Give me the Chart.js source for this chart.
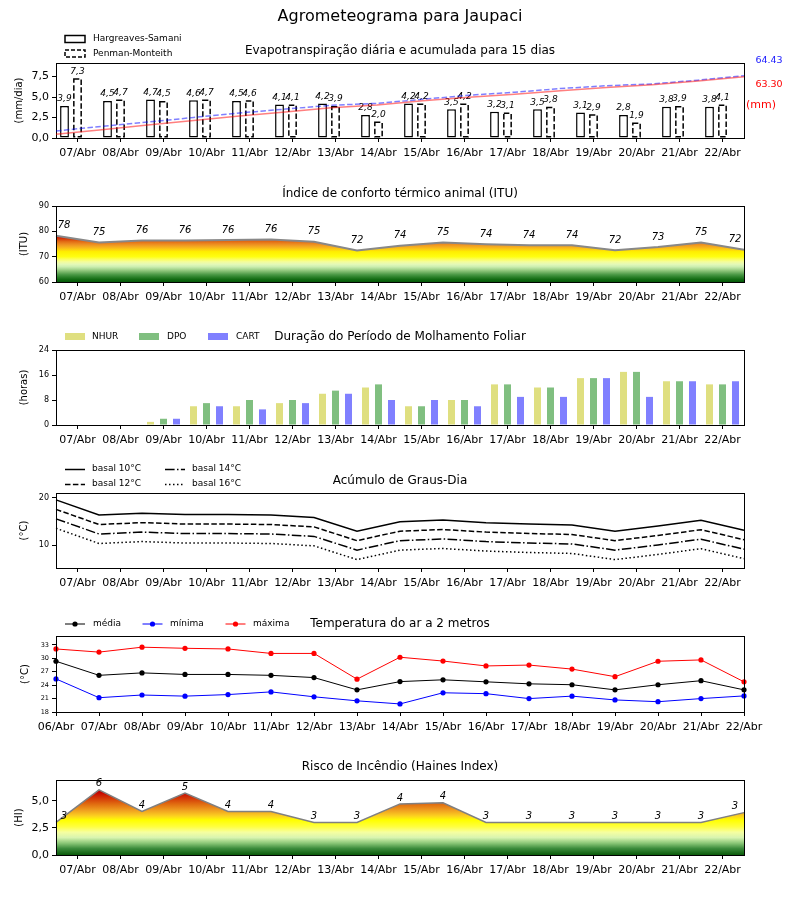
<!DOCTYPE html>
<html lang="pt-BR">
<head>
<meta charset="utf-8">
<title>Agrometeograma para Jaupaci</title>
<script src="https://cdn.jsdelivr.net/npm/chart.js@4.4.1/dist/chart.umd.min.js"></script>
<style>
  body { margin: 0; background: #fff; }
  #wrap { position: relative; width: 800px; height: 900px; }
  canvas { position: absolute; left: 0; }
</style>
</head>
<body>
<div id="wrap">
  <canvas id="et" width="800" height="170" style="top:0"></canvas>
  <canvas id="etAcum" width="800" height="170" style="top:0"></canvas>
  <canvas id="itu" width="800" height="140" style="top:170px"></canvas>
  <canvas id="molh" width="800" height="145" style="top:310px"></canvas>
  <canvas id="graus" width="800" height="145" style="top:455px"></canvas>
  <canvas id="temp" width="800" height="145" style="top:600px"></canvas>
  <canvas id="haines" width="800" height="155" style="top:745px"></canvas>
</div>
<script>
Chart.defaults.font.family = '"DejaVu Sans", sans-serif';
Chart.defaults.color = '#000';
Chart.defaults.animation = false;

// dias (rótulos do eixo) e bordas dos dias (pontos das curvas)
const dias = ['07/Abr', '08/Abr', '09/Abr', '10/Abr', '11/Abr', '12/Abr', '13/Abr', '14/Abr',
  '15/Abr', '16/Abr', '17/Abr', '18/Abr', '19/Abr', '20/Abr', '21/Abr', '22/Abr'];
const diasBordas = ['06/Abr', '07/Abr', '08/Abr', '09/Abr', '10/Abr', '11/Abr', '12/Abr', '13/Abr', '14/Abr',
  '15/Abr', '16/Abr', '17/Abr', '18/Abr', '19/Abr', '20/Abr', '21/Abr', '22/Abr'];

// evapotranspiração (mm/dia) e acumulada (mm)
const etHargreaves = [3.9, 4.5, 4.7, 4.6, 4.5, 4.1, 4.2, 2.8, 4.2, 3.5, 3.2, 3.5, 3.1, 2.8, 3.8, 3.8];
const etPenman = [7.3, 4.7, 4.5, 4.7, 4.6, 4.1, 3.9, 2.0, 4.2, 4.2, 3.1, 3.8, 2.9, 1.9, 3.9, 4.1];
const acumHargreaves = [4.0, 8.6, 13.4, 18.1, 22.7, 26.9, 31.2, 34.1, 38.4, 42.0, 45.3, 48.9, 52.1, 55.0, 58.9, 63.30];
const acumPenman = [7.3, 12.0, 16.5, 21.2, 25.8, 29.9, 33.8, 35.8, 40.0, 44.2, 47.3, 51.1, 54.0, 55.9, 59.8, 64.43];

// ITU
const itu = [78.3, 75.6, 76.4, 76.4, 76.6, 76.8, 75.9, 72.4, 74.3, 75.6, 74.9, 74.5, 74.5, 72.5, 73.8, 75.6, 72.7];

// molhamento foliar (horas)
const nhur = [0, 0, 1, 6, 6, 7, 10, 12, 6, 8, 13, 12, 15, 17, 14, 13];
const dpo = [0, 0, 2, 7, 8, 8, 11, 13, 6, 8, 13, 12, 15, 17, 14, 13];
const cart = [0, 0, 2, 6, 5, 7, 10, 8, 8, 6, 9, 9, 15, 9, 14, 14];

// graus-dia (°C)
const basal10 = [19.6, 16.4, 16.8, 16.5, 16.5, 16.4, 15.9, 13.0, 15.0, 15.35, 14.8, 14.5, 14.3, 13.0, 14.1, 15.3, 13.2];
const basal12 = [17.6, 14.4, 14.8, 14.5, 14.5, 14.4, 13.9, 11.0, 13.0, 13.35, 12.8, 12.5, 12.3, 11.0, 12.1, 13.3, 11.2];
const basal14 = [15.6, 12.4, 12.8, 12.5, 12.5, 12.4, 11.9, 9.0, 11.0, 11.35, 10.8, 10.5, 10.3, 9.0, 10.1, 11.3, 9.2];
const basal16 = [13.6, 10.4, 10.8, 10.5, 10.5, 10.4, 9.9, 7.0, 9.0, 9.35, 8.8, 8.5, 8.3, 7.0, 8.1, 9.3, 7.2];

// temperatura do ar (°C)
const tMedia = [29.35, 26.2, 26.75, 26.4, 26.4, 26.2, 25.7, 22.95, 24.8, 25.2, 24.75, 24.3, 24.1, 22.95, 24.1, 25.0, 22.95];
const tMinima = [25.4, 21.2, 21.8, 21.55, 21.9, 22.5, 21.4, 20.5, 19.8, 22.3, 22.1, 21.0, 21.55, 20.7, 20.3, 21.0, 21.6];
const tMaxima = [32.1, 31.4, 32.5, 32.25, 32.1, 31.1, 31.1, 25.35, 30.25, 29.4, 28.3, 28.5, 27.6, 25.9, 29.35, 29.65, 24.75];

// Haines
const haines = [3, 6, 4, 5.7, 4, 4, 3, 3, 4.7, 4.8, 3, 3, 3, 3, 3, 3, 3.9];

// ticks
const ticksEt = [0, 2.5, 5, 7.5];
const ticksItu = [60, 70, 80, 90];
const ticksMolh = [0, 8, 16, 24];
const ticksGraus = [10, 20];
const ticksTemp = [18, 21, 24, 27, 30, 33];
const ticksHaines = [0, 2.5, 5];

// cores das faixas
const coresItu = [[60, '#05580a'], [61, '#126b12'], [62, '#2d822b'], [63, '#4e9b48'], [64, '#7ab86a'],
  [65, '#a6d58e'], [66, '#cbeeb0'], [67, '#e4f9b8'], [68, '#f4fd9a'], [69, '#fcfe5a'], [70, '#ffff10'],
  [72, '#ffee00'], [73, '#fcc814'], [74, '#f4a820'], [75, '#ec8a20'], [76, '#e26a14'], [77, '#d63c08'],
  [78, '#c80a00'], [90, '#c00000']];
const coresHaines = [[0, '#0a5a0a'], [0.6, '#3c8c3c'], [1.1, '#8cc878'], [1.6, '#d8f4b0'], [2.1, '#f6ffa0'],
  [2.6, '#ffff40'], [3.2, '#ffff00'], [3.6, '#fcd020'], [4.1, '#f0a020'], [4.7, '#e06a10'], [5.2, '#d43a08'],
  [5.8, '#c40000'], [6.9, '#c00000']];

const virgula = v => v.toFixed(1).replace('.', ',');
const FONT = '"DejaVu Sans"';

function gradiente(chart, cores) {
  const { ctx, chartArea, scales } = chart;
  if (!chartArea) return 'transparent';
  const y = scales.y;
  const g = ctx.createLinearGradient(0, y.getPixelForValue(y.min), 0, y.getPixelForValue(y.max));
  cores.forEach(([v, cor]) => g.addColorStop(Math.min(1, Math.max(0, (v - y.min) / (y.max - y.min))), cor));
  return g;
}

function eixoX(altura, labels, offset, extra) {
  return Object.assign({
    type: 'category', labels: labels, offset: offset, position: 'bottom',
    grid: { display: true, drawOnChartArea: false, offset: false, color: '#000', tickLength: 4, tickWidth: 1 },
    border: { display: false },
    ticks: { font: { size: 11 }, padding: 5, maxRotation: 0, autoSkip: false, color: '#000' },
    afterFit: s => { s.height = altura; }
  }, extra || {});
}

function eixoY(min, max, ticks, fmt, tamanho) {
  return {
    min: min, max: max,
    grid: { display: true, drawOnChartArea: false, color: '#000', tickLength: 4 },
    border: { display: false },
    ticks: { font: { size: tamanho }, padding: 3, color: '#000', callback: v => fmt(v) },
    afterBuildTicks: s => { s.ticks = ticks.map(v => ({ value: v })); },
    afterFit: s => { s.width = 56; }
  };
}

function itemLegenda(c, it) {
  c.save();
  if (it.tipo === 'caixa') {
    c.fillStyle = '#fff'; c.strokeStyle = '#000'; c.lineWidth = 1.5;
    c.setLineDash(it.dash || []);
    c.fillRect(it.x, it.y - 3.5, 20, 7);
    c.strokeRect(it.x, it.y - 3.5, 20, 7);
  } else if (it.tipo === 'patch') {
    c.fillStyle = it.cor;
    c.fillRect(it.x, it.y - 3.5, 20, 7);
  } else {
    c.strokeStyle = it.cor; c.lineWidth = it.lw || 1.5;
    c.setLineDash(it.dash || []);
    c.beginPath(); c.moveTo(it.x, it.y + 0.5); c.lineTo(it.x + 20, it.y + 0.5); c.stroke();
    if (it.marcador) {
      c.setLineDash([]); c.fillStyle = it.cor;
      c.beginPath(); c.arc(it.x + 10, it.y + 0.5, 2.6, 0, Math.PI * 2); c.fill();
    }
  }
  c.restore();
  c.fillStyle = '#000'; c.font = '9px ' + FONT; c.textAlign = 'left'; c.textBaseline = 'middle';
  c.fillText(it.texto, it.tx, it.y);
}

function decoracao(cfg) {
  return {
    id: 'deco',
    afterDatasetsDraw(chart) {
      if (cfg.rotulos) {
        const c = chart.ctx;
        c.save();
        cfg.rotulos(chart, c);
        c.restore();
      }
    },
    afterDraw(chart) {
      const c = chart.ctx, a = chart.chartArea;
      c.save();
      c.strokeStyle = '#000'; c.lineWidth = 1; c.setLineDash([]);
      c.strokeRect(Math.floor(a.left) + 0.5, Math.floor(a.top) + 0.5,
        Math.round(a.right - a.left), Math.round(a.bottom - a.top));
      c.fillStyle = '#000'; c.textAlign = 'center'; c.textBaseline = 'middle';
      c.font = '12px ' + FONT;
      c.fillText(cfg.titulo, 400, cfg.tituloY);
      c.save();
      c.translate(cfg.yTituloX, (a.top + a.bottom) / 2);
      c.rotate(-Math.PI / 2);
      c.font = '10px ' + FONT;
      c.fillText(cfg.yTitulo, 0, 0);
      c.restore();
      (cfg.legenda || []).forEach(it => itemLegenda(c, it));
      if (cfg.extra) cfg.extra(chart, c);
      c.restore();
    }
  };
}

function rotulosCurva(meta, valores, chart, c, dy) {
  const a = chart.chartArea;
  c.font = 'italic 10px ' + FONT; c.textAlign = 'center'; c.textBaseline = 'middle'; c.fillStyle = '#000';
  meta.data.forEach((p, i) => {
    const x = Math.min(a.right - 9, Math.max(a.left + 8, p.x));
    c.fillText(String(Math.floor(valores[i])), x, p.y - dy);
  });
}

// 1. Evapotranspiração (barras)
new Chart(document.getElementById('et'), {
  type: 'bar',
  data: {
    labels: dias,
    datasets: [
      { label: 'Hargreaves-Samani', data: etHargreaves, backgroundColor: '#fff', borderColor: '#000',
        borderWidth: 1.5, borderSkipped: false, barPercentage: 0.68, categoryPercentage: 0.907 },
      { label: 'Penman-Monteith', data: etPenman, backgroundColor: '#fff', borderWidth: 0,
        barPercentage: 0.68, categoryPercentage: 0.907 },
      { label: '', data: dias.map(() => null), barPercentage: 0.68, categoryPercentage: 0.907 }
    ]
  },
  options: {
    responsive: false,
    layout: { padding: { top: 63, left: 0, right: 56, bottom: 0 } },
    plugins: { legend: { display: false }, tooltip: { enabled: false } },
    scales: {
      x: eixoX(32, dias, true),
      y: eixoY(0, 9.15, ticksEt, virgula, 11)
    }
  },
  plugins: [decoracao({
    titulo: 'Evapotranspiração diária e acumulada para 15 dias', tituloY: 51,
    yTitulo: '(mm/dia)', yTituloX: 19,
    legenda: [
      { tipo: 'caixa', x: 65, y: 39, tx: 93, texto: 'Hargreaves-Samani' },
      { tipo: 'caixa', x: 65, y: 53.5, tx: 93, texto: 'Penman-Monteith', dash: [4, 2] }
    ],
    rotulos(chart, c) {
      const m = chart.getDatasetMeta(1);
      c.strokeStyle = '#000'; c.lineWidth = 1.5; c.setLineDash([5.5, 2.4]);
      m.data.forEach(b => {
        const p = b.getProps(['x', 'y', 'base', 'width']);
        c.strokeRect(p.x - p.width / 2 + 0.75, p.y + 0.75, p.width - 1.5, p.base - p.y - 1.5);
      });
      c.setLineDash([]);
      c.font = 'italic 9px ' + FONT; c.textAlign = 'center'; c.textBaseline = 'middle'; c.fillStyle = '#000';
      [0, 1].forEach(di => {
        const valores = chart.data.datasets[di].data;
        chart.getDatasetMeta(di).data.forEach((b, i) => {
          c.fillText(virgula(valores[i]), b.x, b.y - 7);
        });
      });
    },
    extra(chart, c) {
      c.font = '16px ' + FONT; c.textAlign = 'center'; c.fillStyle = '#000';
      c.fillText('Agrometeograma para Jaupaci', 400, 17);
      c.font = '9.5px ' + FONT;
      c.fillStyle = '#2020ff';
      c.fillText(acumPenman[acumPenman.length - 1].toFixed(2), 769, 61);
      c.fillStyle = '#ff0000';
      c.fillText(acumHargreaves[acumHargreaves.length - 1].toFixed(2), 769, 84.5);
      c.font = '11px ' + FONT;
      c.fillText('(mm)', 761, 105);
    }
  })]
});

// 1b. Evapotranspiração acumulada (linhas, eixo secundário sobreposto)
new Chart(document.getElementById('etAcum'), {
  type: 'line',
  data: {
    labels: dias,
    datasets: [
      { label: 'acumulada HS', data: acumHargreaves, borderColor: 'rgba(255,0,0,0.5)', borderWidth: 1.5,
        pointRadius: 0, tension: 0 },
      { label: 'acumulada PM', data: acumPenman, borderColor: 'rgba(0,0,255,0.5)', borderWidth: 1.5,
        borderDash: [5.5, 2.4], pointRadius: 0, tension: 0 }
    ]
  },
  options: {
    responsive: false,
    layout: { padding: { top: 63, left: 56, right: 56, bottom: 32 } },
    plugins: { legend: { display: false }, tooltip: { enabled: false } },
    scales: {
      x: { type: 'category', offset: false, display: false },
      y: { display: false, min: 0, max: 77.5 }
    }
  }
});

// 2. ITU
new Chart(document.getElementById('itu'), {
  type: 'line',
  data: {
    labels: diasBordas,
    datasets: [{
      label: 'ITU', data: itu, borderColor: '#888', borderWidth: 2, pointRadius: 0, tension: 0,
      fill: 'start', backgroundColor: c => gradiente(c.chart, coresItu)
    }]
  },
  options: {
    responsive: false,
    layout: { padding: { top: 36, left: 0, right: 56, bottom: 0 } },
    plugins: { legend: { display: false }, tooltip: { enabled: false } },
    scales: {
      x: { type: 'category', labels: diasBordas, offset: false, display: false },
      xt: eixoX(28, dias, true),
      y: eixoY(60, 90, ticksItu, v => String(v), 8)
    }
  },
  plugins: [decoracao({
    titulo: 'Índice de conforto térmico animal (ITU)', tituloY: 24,
    yTitulo: '(ITU)', yTituloX: 24,
    rotulos(chart, c) { rotulosCurva(chart.getDatasetMeta(0), itu, chart, c, 10); }
  })]
});

// 3. Molhamento foliar
new Chart(document.getElementById('molh'), {
  type: 'bar',
  data: {
    labels: dias,
    datasets: [
      { label: 'NHUR', data: nhur, backgroundColor: '#dfdf80', barPercentage: 0.54, categoryPercentage: 0.907 },
      { label: 'DPO', data: dpo, backgroundColor: '#80bf80', barPercentage: 0.54, categoryPercentage: 0.907 },
      { label: 'CART', data: cart, backgroundColor: '#8080ff', barPercentage: 0.54, categoryPercentage: 0.907 }
    ]
  },
  options: {
    responsive: false,
    layout: { padding: { top: 40, left: 0, right: 56, bottom: 0 } },
    plugins: { legend: { display: false }, tooltip: { enabled: false } },
    scales: {
      x: eixoX(30, dias, true),
      y: eixoY(0, 24, ticksMolh, v => String(v), 8)
    }
  },
  plugins: [decoracao({
    titulo: 'Duração do Período de Molhamento Foliar', tituloY: 27,
    yTitulo: '(horas)', yTituloX: 24,
    legenda: [
      { tipo: 'patch', cor: '#dfdf80', x: 65, y: 26.5, tx: 92, texto: 'NHUR' },
      { tipo: 'patch', cor: '#80bf80', x: 139, y: 26.5, tx: 167, texto: 'DPO' },
      { tipo: 'patch', cor: '#8080ff', x: 208, y: 26.5, tx: 236, texto: 'CART' }
    ]
  })]
});

// 4. Graus-dia
const linhaGraus = (label, data, dash) => ({
  label, data, borderColor: '#000', borderWidth: 1.5, borderDash: dash, pointRadius: 0, tension: 0, fill: false
});
new Chart(document.getElementById('graus'), {
  type: 'line',
  data: {
    labels: diasBordas,
    datasets: [
      linhaGraus('basal 10°C', basal10, []),
      linhaGraus('basal 12°C', basal12, [5.5, 2.4]),
      linhaGraus('basal 14°C', basal14, [9.6, 2.4, 1.5, 2.4]),
      linhaGraus('basal 16°C', basal16, [1.5, 2.5])
    ]
  },
  options: {
    responsive: false,
    layout: { padding: { top: 38, left: 0, right: 56, bottom: 0 } },
    plugins: { legend: { display: false }, tooltip: { enabled: false } },
    scales: {
      x: { type: 'category', labels: diasBordas, offset: false, display: false },
      xt: eixoX(32, dias, true),
      y: eixoY(5.23, 21.05, ticksGraus, v => String(v), 8)
    }
  },
  plugins: [decoracao({
    titulo: 'Acúmulo de Graus-Dia', tituloY: 26,
    yTitulo: '(°C)', yTituloX: 24,
    legenda: [
      { tipo: 'linha', cor: '#000', x: 65, y: 14, tx: 92, texto: 'basal 10°C' },
      { tipo: 'linha', cor: '#000', x: 65, y: 29, tx: 92, texto: 'basal 12°C', dash: [5.5, 2.4] },
      { tipo: 'linha', cor: '#000', x: 165, y: 14, tx: 192, texto: 'basal 14°C', dash: [9.6, 2.4, 1.5, 2.4] },
      { tipo: 'linha', cor: '#000', x: 165, y: 29, tx: 192, texto: 'basal 16°C', dash: [1.5, 2.5] }
    ]
  })]
});

// 5. Temperatura do ar
const linhaTemp = (label, data, cor) => ({
  label, data, borderColor: cor, backgroundColor: cor, borderWidth: 1, pointRadius: 2.6,
  pointBorderWidth: 0, pointBackgroundColor: cor, tension: 0, fill: false
});
new Chart(document.getElementById('temp'), {
  type: 'line',
  data: {
    labels: diasBordas,
    datasets: [
      linhaTemp('média', tMedia, '#000'),
      linhaTemp('mínima', tMinima, '#0000ff'),
      linhaTemp('máxima', tMaxima, '#ff0000')
    ]
  },
  options: {
    responsive: false,
    clip: false,
    layout: { padding: { top: 36, left: 0, right: 56, bottom: 0 } },
    plugins: { legend: { display: false }, tooltip: { enabled: false } },
    scales: {
      x: eixoX(33, diasBordas, false),
      y: eixoY(18, 35, ticksTemp, v => String(v), 6.5)
    }
  },
  plugins: [decoracao({
    titulo: 'Temperatura do ar a 2 metros', tituloY: 24,
    yTitulo: '(°C)', yTituloX: 25,
    legenda: [
      { tipo: 'linha', cor: '#000', lw: 1, marcador: true, x: 65, y: 23.5, tx: 93, texto: 'média' },
      { tipo: 'linha', cor: '#0000ff', lw: 1, marcador: true, x: 142.5, y: 23.5, tx: 170, texto: 'mínima' },
      { tipo: 'linha', cor: '#ff0000', lw: 1, marcador: true, x: 225.5, y: 23.5, tx: 253, texto: 'máxima' }
    ]
  })]
});

// 6. Haines
new Chart(document.getElementById('haines'), {
  type: 'line',
  data: {
    labels: diasBordas,
    datasets: [{
      label: 'Haines', data: haines, borderColor: '#808080', borderWidth: 1.5, pointRadius: 0, tension: 0,
      fill: 'start', backgroundColor: c => gradiente(c.chart, coresHaines)
    }]
  },
  options: {
    responsive: false,
    layout: { padding: { top: 35, left: 0, right: 56, bottom: 0 } },
    plugins: { legend: { display: false }, tooltip: { enabled: false } },
    scales: {
      x: { type: 'category', labels: diasBordas, offset: false, display: false },
      xt: eixoX(45, dias, true),
      y: eixoY(0, 6.9, ticksHaines, virgula, 11)
    }
  },
  plugins: [decoracao({
    titulo: 'Risco de Incêndio (Haines Index)', tituloY: 22,
    yTitulo: '(HI)', yTituloX: 19,
    rotulos(chart, c) { rotulosCurva(chart.getDatasetMeta(0), haines, chart, c, 6); }
  })]
});
</script>
</body>
</html>
